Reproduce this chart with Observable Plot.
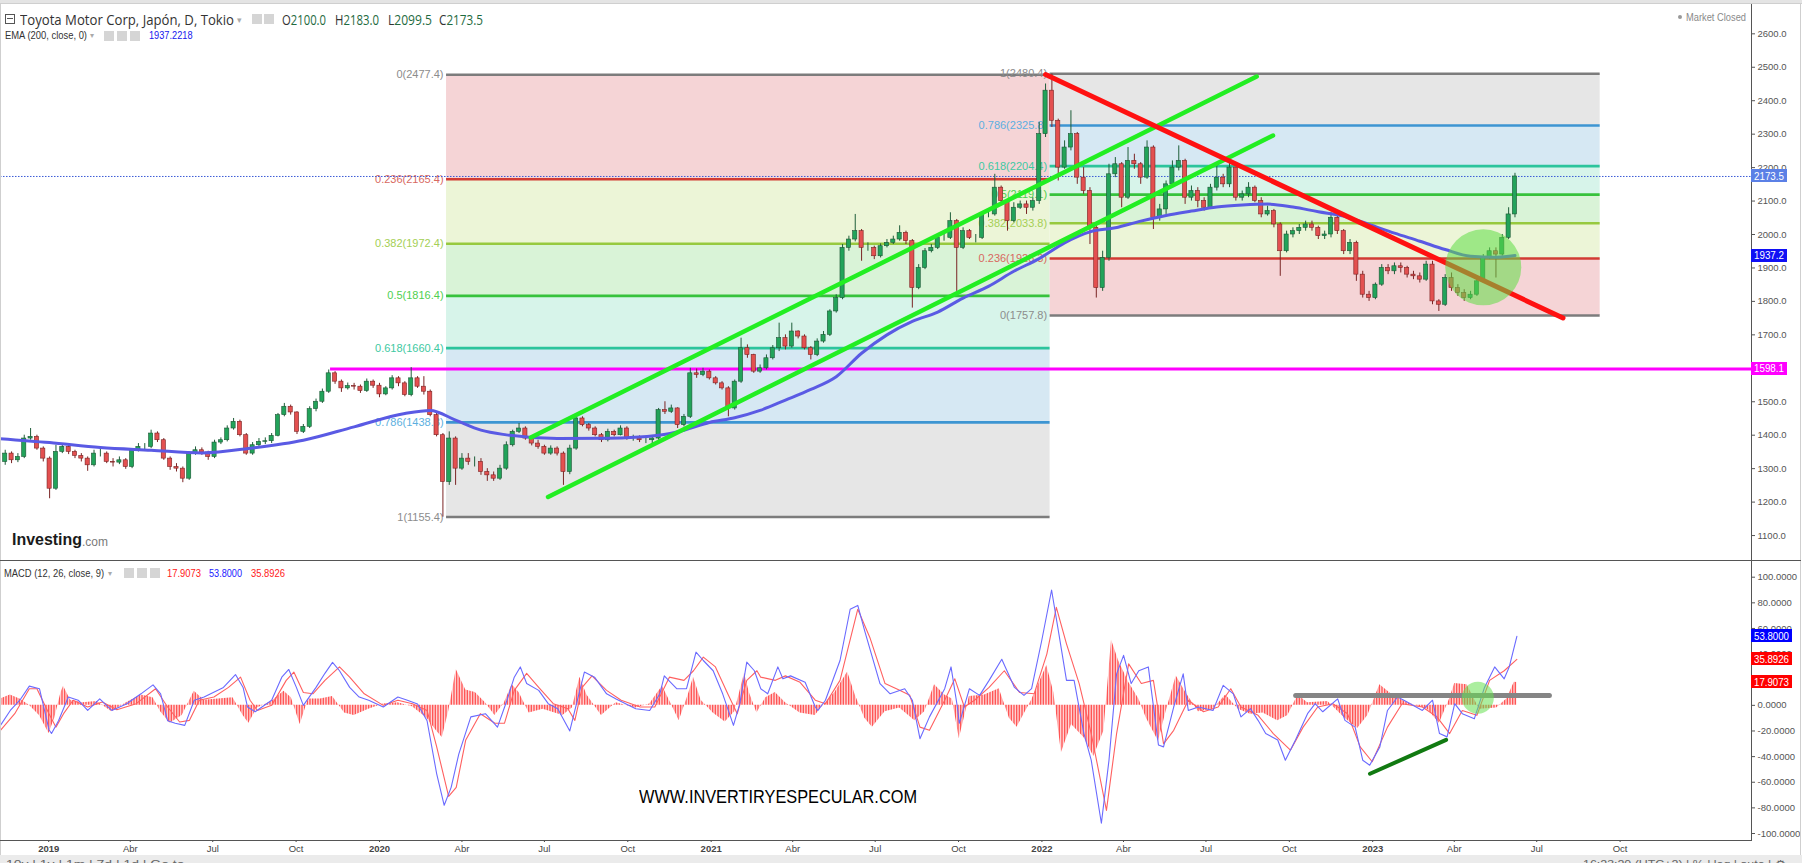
<!DOCTYPE html>
<html><head><meta charset="utf-8">
<script src="https://cdn.jsdelivr.net/npm/d3@7"></script>
<script src="https://cdn.jsdelivr.net/npm/@observablehq/plot@0.6"></script>
<style>
html,body{margin:0;padding:0;background:#fff;}
#wrap{position:relative;width:1802px;height:863px;overflow:hidden;background:#fff;font-family:"Liberation Sans",Arial,sans-serif;}
#wrap svg{position:absolute;left:0;}
.a{position:absolute;white-space:nowrap;line-height:1;}
</style></head>
<body><div id="wrap"></div>
<script>
// ================= DATA =================
const weekStart = "2018-11-07"; // centre of first weekly candle
const opens = [
1330,1320,1345,1325,1335,1390,1395,1360,1330,1240,
1350,1365,1350,1338,1330,1310,1345,1345,1320,1318,
1325,1305,1355,1365,1365,1405,1385,1330,1305,1300,
1270,1345,1355,1348,1335,1378,1385,1420,1440,1400,
1345,1370,1380,1382,1398,1460,1485,1468,1410,1425,
1478,1500,1530,1585,1560,1540,1547,1545,1532,1560,
1548,1522,1540,1570,1555,1520,1570,1545,1530,1460,
1400,1260,1390,1300,1330,1320,1320,1290,1280,1270,
1300,1370,1410,1420,1390,1375,1365,1345,1360,1345,
1290,1360,1450,1430,1420,1400,1385,1410,1400,1420,
1390,1390,1385,1385,1390,1475,1470,1480,1430,1455,
1585,1580,1590,1570,1555,1540,1480,1560,1660,1640,
1590,1600,1630,1660,1690,1665,1710,1695,1660,1640,
1680,1700,1770,1810,1960,1985,2010,1960,1960,1935,
1965,1975,1985,2005,1980,1840,1900,1950,1960,1990,
1990,2040,1960,2010,1990,1990,2060,2060,2140,2100,
2040,2080,2090,2080,2100,2300,2430,2340,2200,2260,
2300,2170,2130,2020,1840,1930,2180,2210,2110,2220,
2210,2170,2260,2050,2075,2150,2200,2220,2110,2130,
2100,2080,2140,2170,2150,2200,2110,2120,2140,2100,
2060,2070,2030,1950,2000,2010,2020,2030,2020,1995,
2000,2050,2010,1950,1975,1880,1820,1810,1850,1900,
1890,1905,1900,1880,1875,1865,1910,1800,1790,1870,
1840,1825,1810,1820,1860,1930,1950,1940,1990,2060];
const highs = [
1345,1355,1350,1345,1400,1420,1400,1365,1335,1370,
1375,1370,1355,1345,1335,1355,1360,1350,1330,1335,
1330,1360,1375,1375,1415,1410,1390,1335,1315,1305,
1350,1365,1362,1352,1385,1392,1428,1450,1445,1405,
1378,1390,1392,1405,1465,1495,1490,1470,1432,1485,
1508,1538,1595,1590,1565,1556,1555,1550,1568,1565,
1555,1545,1578,1575,1560,1602,1575,1575,1535,1465,
1405,1410,1395,1345,1345,1335,1330,1300,1290,1310,
1380,1415,1435,1425,1395,1385,1370,1368,1365,1350,
1370,1460,1455,1435,1425,1405,1418,1415,1428,1425,
1400,1398,1395,1398,1480,1500,1490,1482,1462,1600,
1598,1600,1595,1575,1560,1545,1565,1690,1670,1642,
1610,1640,1668,1735,1700,1735,1712,1700,1665,1688,
1710,1775,1820,1970,1995,2060,2015,1975,1965,1972,
1985,1995,2026,2010,1985,1910,1958,1970,1998,2000,
2065,2045,2020,2015,2000,2068,2075,2180,2145,2105,
2095,2100,2100,2110,2335,2450,2480,2345,2280,2370,
2305,2200,2140,2030,1950,2210,2230,2215,2260,2240,
2215,2280,2265,2090,2160,2220,2265,2225,2145,2140,
2110,2150,2210,2180,2220,2200,2130,2155,2145,2110,
2085,2075,2035,2010,2020,2030,2040,2040,2025,2010,
2066,2055,2015,1985,1980,1890,1830,1855,1910,1910,
1915,1915,1905,1890,1885,1920,1920,1805,1880,1885,
1850,1835,1830,1870,1940,1960,1960,2000,2080,2183];
const lows = [
1300,1310,1315,1318,1330,1385,1355,1320,1210,1235,
1345,1342,1330,1320,1292,1305,1335,1315,1305,1312,
1298,1300,1350,1355,1360,1378,1325,1295,1290,1258,
1265,1340,1340,1325,1330,1372,1380,1415,1395,1340,
1340,1362,1372,1375,1395,1455,1460,1402,1405,1420,
1470,1495,1525,1552,1528,1535,1535,1525,1528,1540,
1512,1518,1535,1545,1515,1515,1540,1520,1455,1395,
1155,1250,1250,1295,1310,1305,1280,1262,1262,1265,
1295,1365,1405,1385,1368,1358,1340,1340,1338,1250,
1282,1355,1425,1412,1395,1378,1380,1395,1398,1385,
1382,1378,1375,1370,1385,1462,1465,1420,1425,1450,
1570,1575,1565,1550,1535,1455,1475,1555,1630,1585,
1585,1595,1625,1650,1655,1660,1688,1655,1625,1635,
1675,1695,1765,1805,1950,1978,1920,1950,1925,1930,
1960,1970,1980,1970,1780,1835,1895,1945,1955,1980,
1985,1830,1955,1985,1975,1985,2050,2055,2090,2010,
2035,2075,2060,2070,2090,2290,2320,2160,2195,2250,
2150,2120,1970,1810,1830,1920,2170,2080,2105,2195,
2150,2165,2015,2040,2060,2140,2190,2090,2100,2080,
2070,2075,2130,2140,2140,2100,2100,2110,2095,2050,
2055,2020,1875,1945,1990,2000,2010,2010,1985,1985,
1990,2000,1940,1940,1860,1810,1800,1805,1845,1880,
1880,1885,1870,1865,1855,1860,1790,1770,1785,1830,
1815,1800,1805,1815,1855,1925,1870,1935,1985,2050];
const closes = [
1320,1345,1325,1335,1390,1395,1360,1330,1240,1350,
1365,1350,1338,1330,1310,1345,1345,1320,1318,1325,
1305,1355,1365,1365,1405,1385,1330,1305,1300,1270,
1345,1355,1348,1335,1378,1385,1420,1440,1400,1345,
1370,1380,1382,1398,1460,1485,1468,1410,1425,1478,
1500,1530,1585,1560,1540,1547,1545,1532,1560,1548,
1522,1540,1570,1555,1520,1570,1545,1530,1460,1400,
1260,1390,1300,1330,1320,1320,1290,1280,1270,1300,
1370,1410,1420,1390,1375,1365,1345,1360,1345,1290,
1360,1450,1430,1420,1400,1385,1410,1400,1420,1390,
1390,1385,1385,1390,1475,1470,1480,1430,1455,1585,
1580,1590,1570,1555,1540,1480,1560,1660,1640,1590,
1600,1630,1660,1690,1665,1710,1695,1660,1640,1680,
1700,1770,1810,1960,1985,2010,1960,1960,1935,1965,
1975,1985,2005,1980,1840,1900,1950,1960,1990,1990,
2040,1960,2010,1990,1990,2060,2060,2140,2100,2040,
2080,2090,2080,2100,2300,2430,2340,2200,2260,2300,
2170,2130,2020,1840,1930,2180,2210,2110,2220,2210,
2170,2260,2050,2075,2150,2200,2220,2110,2130,2100,
2080,2140,2170,2150,2200,2110,2120,2140,2100,2060,
2070,2030,1950,2000,2010,2020,2030,2020,1995,2000,
2050,2010,1950,1975,1880,1820,1810,1850,1900,1890,
1905,1900,1880,1875,1865,1910,1800,1790,1870,1840,
1825,1810,1820,1860,1930,1950,1940,1990,2060,2173.5];

// EMA(200) (week index -> value)
const emaWeek  = [0,8,16,24,32,40,48,56,64,68,72,76,80,88,96,104,108,112,116,120,124,128,132,136,140,144,148,152,156,160,164,168,172,176,180,184,188,192,196,200,204,208,212,216,220,224,228,232,236,239];
const emaValue = [1390,1378,1363,1355,1347,1362,1385,1425,1465,1474,1445,1415,1401,1390,1391,1400,1415,1438,1452,1474,1505,1537,1575,1645,1700,1740,1768,1810,1845,1890,1928,1975,2008,2020,2040,2057,2070,2082,2088,2091,2082,2068,2055,2030,2004,1980,1955,1935,1932,1937.2];

// MACD (12,26,9) (week index -> value)
const macdWeek = [0.25,1.8,3.3,4.8,6.4,7.9,8.3,9.4,10.95,12.5,14,15.9,17.8,20.1,22.4,24.3,25.5,26.6,27.8,29.3,30.8,32.35,35.4,37.3,38.5,39.2,40.4,43,44.6,45.7,46.9,48,50,51.4,52.6,53.7,55.3,56.8,58.3,60.6,62.9,64.4,66,67.5,69,70.2,71.3,72.5,74.4,76.7,78.6,80.1,81.25,82.2,83.2,85.1,86.6,88.1,90,91.2,92.3,93.9,95.8,97.3,98.8,100.4,102.6,104.2,104.9,106.85,108.4,109.9,111.05,112.6,114.1,115.8,116.8,117.9,119.1,120.1,121.2,122.8,123.6,124.8,127.1,128.7,129.1,130.3,132.6,134.2,135.4,136.5,138.9,140.5,142.8,144,145.2,146.7,149.1,150.1,151.1,151.4,153,154.6,156.1,158.1,160.1,161.6,162.8,164.4,165.95,167.1,168.3,169.5,171.05,172.2,173.8,175,176.2,177.3,178.5,179.7,181.2,182.8,183.6,185.2,186.7,187.5,189.1,191.4,193,194.6,195.8,197.3,198.5,199.7,201.6,202.8,204.4,206.3,207.5,208.7,211.05,212.2,213.8,215,216.1,217.7,218.9,220.5,222,224.4,226,227.1,228.3,229.5,230.7,232.6,234.2,235.8,237.3,238.1,239.3];
const macdValue = [-15.6,-4,4,15,13,-19,-22,-12,6.5,4,-4,5,-4,1,9,16,9,-12,-14,-15.6,4,6.5,14,24,14,-1.3,-5,4,22,28,14,0,14,25,33.5,27,14,6.5,4,-1.3,6.5,4,1,-12,-53,-78,-64,-38,-9,-6.5,-17,4,22,30,17,11.7,1.3,-2.6,-20,4,26,22,9,5,1.3,-2.6,-4,9,23,13,13,41.5,35,27,9,-15.6,1.3,33.7,27,13,9,30,20.7,23,18,-1.3,-4,4,35,75,78,58,17,9,13,4,-26,-9,13,30,-1.3,-14,13,7.8,19.5,36,14,7.8,13,50.6,90,55.8,19.5,19.5,-22,-42.8,-92,-42.8,24.6,39,17,27,30,-31,-32.4,-1.3,24.6,-4,-1.3,-4,15.6,9,-9,-2.6,-11.7,-22,-27,-42.8,-27,-6.5,1.3,-5,5,-11.7,-17,-42.8,-46.7,-32.4,-4,6.5,2.6,-4,4,-22,-24.6,1.3,-6.5,-10.4,14,30,20.7,30,53.8];
const signalWeek = [0.25,2.5,4.8,6,7.9,9,10.2,11.7,14,16.3,18.6,21.65,24.7,26.6,28.5,30.05,31.6,33.9,36.2,38.1,39.6,40.75,43,45.3,46.5,48,49.5,51.4,53.7,55.3,57.6,60.6,62.9,65.2,67.5,69,70.9,72.1,73.6,75.9,78.2,79.7,81.25,83.2,85.1,87.4,89.7,90.8,91.95,93.5,95.8,98.1,101.1,103.4,105.7,108,109.5,111.05,112.96,114.9,116.4,117.9,119.5,120.1,122.4,124,126.3,128.7,130.3,132.6,135.4,137.3,139.7,142,143.6,145.2,146.7,149.1,150.7,152.2,153.8,156.1,158.5,160.9,163.2,165.2,166.7,168.3,170.3,172.2,174.6,176.2,178.1,180.1,182,183.6,185.2,187.5,189.9,192.2,194.2,195.8,198.5,200.9,203.6,205.6,207.9,210.3,212.6,214.6,216.5,218.9,221.2,224.4,226.7,228.7,230.7,233,235,237.3,239.3];
const signalValue = [-19.5,-6.5,13,13,-6.5,-17,-6.5,4,-1.3,2.6,-3.4,1.3,13,-1.3,-13,-11.7,4,6.5,14,22,4,-4,0,19.5,26,10,9,19.5,30,22,9,0,4,1.3,-4,-32,-71,-64,-27,-6.5,-14,-14,11.7,25,14,1.3,-2.6,-11.7,14,23,11.7,4,-1.3,-1.3,22,19.5,27,37.6,30,9,-6.5,19.5,27,22,19.5,23,18,4,1.3,19.5,75,53,17,11.7,7.8,-17,-19.5,4,20.7,-1.3,4,14,27,10,9,40,76.5,48,17,-22,-82,-22,32.4,17,19.5,-30,-19.5,4,-5,-1.3,13,-1.3,-7.8,-22,-35,-17,-1.3,1.3,-6.5,-32.4,-44,-17,1.3,-1.3,-9,-22,-4,-7.8,19.5,27,35.9];
const histWeek = [0.25,1.8,3.3,4.8,6.4,7.9,8.8,9.8,10.2,11.3,13.2,15.5,17.8,20.1,22.4,24.3,25.5,27,28.9,30.8,32.35,34.6,36.9,38.5,39.4,40.75,43,44.95,46.1,47.5,48.8,50.7,52.6,54.5,56,58.3,60.6,62.9,65.2,67.5,69,69.9,70.9,72.1,73.6,75.1,76.7,78.2,79.7,80.9,82,83.6,85.8,88.9,90.4,91.6,92.7,95,97.3,100.4,102.6,104.6,105.7,107.25,108.8,109.5,110.7,112.6,114.5,116,117.55,118.3,119.5,120.9,122.4,124,126.3,128.7,130.3,131.8,133.8,135,136.5,137.7,139.7,142,144.4,145.95,147.5,149.1,150.3,151.4,153,155.4,157.7,159.3,160.5,162.8,165.2,166.3,167.5,169.1,171.05,172.6,174.2,175.4,176.5,178.1,179.7,180.9,182.8,184,185.6,187.1,189.1,191.4,193.4,195.4,197.3,199.3,201.6,203.2,204.8,206.3,209.5,212.2,214.2,215.8,217.7,219.7,222,225.2,227.1,228.7,229.5,231.45,233.4,236.1,237.7,238.9,239.3];
const histValue = [5,8,5,0,-8,-22,-10,10,15,4,2,3,-5,2,8,6,-5,-14,-8,11,4,5,6,-8,-14,-2,3,11,6,-15,5,5,7,-6,-8,-3,1,2,-1,-10,-20,-25,-5,28,12,10,2,-8,2,16,10,-6,-3,-8,-2,22,8,-8,2,-2,1,15,4,-12,10,22,4,-6,-13,-5,25,10,-6,6,10,2,-6,-8,2,10,26,8,-10,-17,-5,-2,-12,-5,16,8,5,-26,7,8,13,-10,-17,4,31,10,-37,-15,-25,-40,-20,51,35,18,5,-10,-28,-5,23,10,-5,-3,8,-3,-7,-6,-12,-8,8,2,3,-10,-18,-8,16,8,2,-3,-14,5,17,16,-3,-2,5,18,17.9];

// Fibonacci retracements
const fibLevels = ["0","0.236","0.382","0.5","0.618","0.786","1"];
const leftFibPrices  = [2477.4,2165.4,1972.4,1816.4,1660.4,1438.3,1155.4];
const rightFibPrices = [1757.8,1928.3,2033.8,2119.1,2204.4,2325.8,2480.4];
const leftFibSpan  = ["2020-03-15","2022-01-10"];
const rightFibSpan = ["2022-01-10","2023-09-09"];
const fibLineColors  = ["#7c7c7c","#d23b33","#97c93f","#37c23c","#2cc49c","#3d95d2","#7c7c7c"];
const fibLabelColors = ["#8c8c8c","#d8685f","#a4cf55","#4fd04f","#40c9a2","#5cafe0","#8c8c8c"];
const fibBandColors  = ["#f5d4d6","#ecf5d7","#d9f3d7","#d7f4ea","#d6e8f3","#e6e6e6"];

// drawings
const resistanceLine = [{from:"2019-11-08", price:1598.1}];
const channelUpper = [["2020-06-16",1393.1],["2022-08-26",2472.3]];
const channelLower = [["2020-07-05",1215.2],["2022-09-13",2296.0]];
const downTrend    = [["2022-01-05",2478.3],["2023-07-30",1750.4]];
const priceCircle  = [["2023-05-03",1902]];
const macdLevel    = [["2022-10-08",7.7],["2023-07-15",7.7]];
const macdSupport  = [["2022-12-29",-53.4],["2023-03-23",-26.9]];
const macdCircle   = [["2023-04-27",5.9]];

// last values
const lastOHLC = {o:2100.0, h:2183.0, l:2099.5, c:2173.5};
const lastEma = 1937.2218;
const lastMacd = 53.8000, lastSignal = 35.8926, lastHist = 17.9073;

// axis ticks
const priceTicks = [1100,1200,1300,1400,1500,1600,1700,1800,1900,2000,2100,2200,2300,2400,2500,2600];
const macdTicks = [-100,-80,-60,-40,-20,0,20,40,60,80,100];
const timeTicks = ["2019-01-01","2019-04-01","2019-07-01","2019-10-01","2020-01-01","2020-04-01","2020-07-01","2020-10-01","2021-01-01","2021-04-01","2021-07-01","2021-10-01","2022-01-01","2022-04-01","2022-07-01","2022-10-01","2023-01-01","2023-04-01","2023-07-01","2023-10-01"];
const monthNames = {0:null, 3:"Abr", 6:"Jul", 9:"Oct"};

// ================= BUILD =================
const DAY = 864e5;
const T0 = new Date(weekStart).getTime();
const wk = k => new Date(T0 + k * 7 * DAY);
const D = s => new Date(s);
const E0 = Date.UTC(2020,0,1);
const xDomain = [new Date(E0 - 418.2*DAY), new Date(E0 + 1514*DAY)];

const candles = closes.map((c,i)=>({date: wk(i), o: opens[i], h: highs[i], l: lows[i], c}));
const up = candles.filter(d=>d.c>=d.o), down = candles.filter(d=>d.c<d.o);
const half = 2.3*DAY;
const ema = emaWeek.map((k,i)=>({date: wk(k), v: emaValue[i]}));
const macd = macdWeek.map((k,i)=>({date: wk(k), v: macdValue[i]}));
const signal = signalWeek.map((k,i)=>({date: wk(k), v: signalValue[i]}));
const hist = histWeek.map((k,i)=>({date: wk(k), v: histValue[i]}));

const bands = [], fibLines = [];
function addFib(prices, span){
  for (let i=0;i<prices.length;i++){
    fibLines.push({x1:D(span[0]), x2:D(span[1]), y:prices[i], color:fibLineColors[i], lcolor:fibLabelColors[i], label:`${fibLevels[i]}(${prices[i].toFixed(1)})`});
    if (i<prices.length-1) bands.push({x1:D(span[0]), x2:D(span[1]), y1:prices[i], y2:prices[i+1], fill:fibBandColors[i]});
  }
}
addFib(leftFibPrices, leftFibSpan);
addFib(rightFibPrices, rightFibSpan);
const seg = (arr, id) => arr.map(([d,v])=>({date:D(d), v, id}));
const channels = [...seg(channelUpper,"u"), ...seg(channelLower,"l")];
const resist = resistanceLine.map(r=>({x1:D(r.from), x2:xDomain[1], y:r.price}));

const FONT = '"Liberation Sans", Arial, sans-serif';

const pricePlot = Plot.plot({
  width:1802, height:560, marginTop:0, marginBottom:0, marginLeft:0, marginRight:51,
  x:{type:"utc", domain:xDomain, axis:null},
  y:{domain:[1025.4, 2699.6], axis:null},
  style:{fontFamily:FONT, fontSize:"10px", background:"transparent"},
  marks:[
    Plot.rect(bands, {x1:"x1", x2:"x2", y1:"y1", y2:"y2", fill:d=>d.fill}),
    Plot.ruleY(fibLines, {y:"y", x1:"x1", x2:"x2", stroke:d=>d.color, strokeWidth:2.6}),
    Plot.text(fibLines, {x:"x1", y:"y", text:"label", textAnchor:"end", dx:-3, fill:d=>d.lcolor, fontSize:11}),
    Plot.ruleY(resist, {y:"y", x1:"x1", x2:"x2", stroke:"#ff00ff", strokeWidth:3}),
    Plot.ruleY([lastOHLC.c], {stroke:"#3b5bd6", strokeWidth:1, strokeDasharray:"1.5,1.5"}),
    Plot.ruleX(up, {x:"date", y1:"l", y2:"h", stroke:"#1f5e3a", strokeWidth:1}),
    Plot.ruleX(down, {x:"date", y1:"l", y2:"h", stroke:"#7a2424", strokeWidth:1}),
    Plot.rect(up, {x1:d=>new Date(+d.date-half), x2:d=>new Date(+d.date+half), y1:"o", y2:"c", fill:"#22a35a", stroke:"#1b5533", strokeWidth:0.6}),
    Plot.rect(down, {x1:d=>new Date(+d.date-half), x2:d=>new Date(+d.date+half), y1:"o", y2:"c", fill:"#e35050", stroke:"#7a2222", strokeWidth:0.6}),
    Plot.line(ema, {x:"date", y:"v", stroke:"#5a5ae4", strokeWidth:3, curve:"monotone-x"}),
    Plot.line(channels, {x:"date", y:"v", z:"id", stroke:"#22ee22", strokeWidth:4.5}),
    Plot.line(seg(downTrend,"r"), {x:"date", y:"v", stroke:"#ff1111", strokeWidth:5}),
    Plot.dot(seg(priceCircle,"c"), {x:"date", y:"v", r:38, fill:"#5fdc45", fillOpacity:0.55, stroke:"none"}),
    Plot.axisY(priceTicks, {anchor:"right", label:null, tickFormat:d=>d.toFixed(1), tickSize:3, tickPadding:3, fontSize:9.5, color:"#555"})
  ]
});
pricePlot.style.top = "0px";

const macdPlot = Plot.plot({
  width:1802, height:303, marginTop:0, marginBottom:23, marginLeft:0, marginRight:51,
  x:{type:"utc", domain:xDomain, axis:null},
  y:{domain:[-105.46, 113.03], axis:null},
  style:{fontFamily:FONT, fontSize:"10px", background:"transparent"},
  marks:[
    Plot.areaY(hist, {x:"date", y:"v", fill:"#ff5252"}),
    Plot.line(signal, {x:"date", y:"v", stroke:"#ff6060", strokeWidth:1.1}),
    Plot.line(macd, {x:"date", y:"v", stroke:"#6a6aff", strokeWidth:1.1}),
    Plot.line(seg(macdLevel,"g"), {x:"date", y:"v", stroke:"#858585", strokeWidth:5}),
    Plot.line(seg(macdSupport,"s"), {x:"date", y:"v", stroke:"#117a11", strokeWidth:4}),
    Plot.dot(seg(macdCircle,"c"), {x:"date", y:"v", r:16, fill:"#66e050", fillOpacity:0.55, stroke:"none"}),
    Plot.axisY(macdTicks, {anchor:"right", label:null, tickFormat:d=>d.toFixed(4), tickSize:3, tickPadding:3, fontSize:9.5, color:"#555"}),
    Plot.axisX(timeTicks.map(D), {anchor:"bottom", label:null, tickSize:2, tickPadding:3, fontSize:9.5, color:"#444",
      tickFormat:d=> d.getUTCMonth()===0 ? String(d.getUTCFullYear()) : monthNames[d.getUTCMonth()]})
  ]
});
macdPlot.style.top = "560px";

const wrap = document.getElementById("wrap");
wrap.appendChild(pricePlot);
wrap.appendChild(macdPlot);

// histogram: striped fill to mimic daily bars
(function(){
  const ns = "http://www.w3.org/2000/svg";
  const defs = document.createElementNS(ns,"defs");
  const pat = document.createElementNS(ns,"pattern");
  pat.setAttribute("id","hstripe"); pat.setAttribute("patternUnits","userSpaceOnUse");
  pat.setAttribute("width","1.6"); pat.setAttribute("height","20");
  const r = document.createElementNS(ns,"rect");
  r.setAttribute("width","0.9"); r.setAttribute("height","20"); r.setAttribute("fill","#ff4040");
  pat.appendChild(r); defs.appendChild(pat); macdPlot.insertBefore(defs, macdPlot.firstChild);
  macdPlot.querySelectorAll('g[aria-label="area"]').forEach(g=>{
    g.setAttribute("fill","url(#hstripe)");
    g.querySelectorAll("path").forEach(p=>p.setAttribute("fill","url(#hstripe)"));
  });
  macdPlot.querySelectorAll("text").forEach(t=>{ if (/^\d{4}$/.test(t.textContent)) t.setAttribute("font-weight","bold"); });
})();

// ================= OVERLAY TEXT / FRAME =================
function box(x,y,w,h,bg,extra){ const d=document.createElement("div"); d.className="a";
  Object.assign(d.style,{left:x+"px",top:y+"px",width:w+"px",height:h+"px",background:bg},extra||{}); wrap.appendChild(d); return d; }
function txt(s,x,yc,size,color,o){ o=o||{}; const d=document.createElement("div"); d.className="a"; d.textContent=s;
  Object.assign(d.style,{left:x+"px",fontSize:size+"px",color:color,fontFamily:o.family||FONT,fontWeight:o.weight||"normal"});
  wrap.appendChild(d); const r=d.getBoundingClientRect(); d.style.top=(yc-r.height/2)+"px";
  if(o.w){ d.style.transformOrigin="0 50%"; d.style.transform=`scaleX(${o.w/r.width})`; } return d; }

// frame lines
box(0,0,1802,3,"#e4e4e4");
box(0,3,1802,1,"#cfcfcf");
box(0,3,1,852,"#cfcfcf");
box(1800,3,1,852,"#cfcfcf");
box(1751,4,1,836,"#555");
box(0,560,1801,1,"#555");
box(0,840,1752,1,"#555");
box(0,855,1802,8,"#ebebeb");

// header
box(5,14,8,8,"#fff",{border:"1px solid #555"}); box(7,18,6,1,"#555");
txt("Toyota Motor Corp, Japón, D, Tokio",20,19.5,14,"#333",{family:'"Open Sans", "Liberation Sans", sans-serif', w:214});
txt("▾",237,20,9,"#aaa");
box(252,14,10,10,"#d5d5d5"); box(264,14,10,10,"#d5d5d5");
const ohlc=[["O",lastOHLC.o,282],["H",lastOHLC.h,335],["L",lastOHLC.l,388],["C",lastOHLC.c,439]];
ohlc.forEach(([k,v,x])=>{ const t=txt("",x,19.5,14,"#333",{family:'"Open Sans", "Liberation Sans", sans-serif'});
  t.innerHTML=`<span style="color:#333">${k}</span><span style="color:#1f6b3f">${v.toFixed(1)}</span>`;
  const r=t.getBoundingClientRect(); t.style.top=(19.5-r.height/2)+"px"; t.style.transformOrigin="0 50%"; t.style.transform=`scaleX(${44/r.width})`; });
txt("EMA (200, close, 0)",4.6,35.7,11,"#333",{w:82});
txt("▾",90,36,8,"#aaa");
box(104,31,10,10,"#d5d5d5"); box(117,31,10,10,"#d5d5d5"); box(130,31,10,10,"#d5d5d5");
txt(lastEma.toFixed(4),149,35.7,11,"#1515ee",{w:43.5});
box(1678,15,4,4,"#999",{borderRadius:"2px"});
txt("Market Closed",1686,17.3,10.5,"#8a8a8a",{w:60});

// MACD header
txt("MACD (12, 26, close, 9)",4,573.3,11,"#333",{w:100});
txt("▾",108,573.5,8,"#aaa");
box(124,568,10,10,"#d5d5d5"); box(137,568,10,10,"#d5d5d5"); box(150,568,10,10,"#d5d5d5");
txt(lastHist.toFixed(4),167,573.3,11,"#ff2020",{w:34});
txt(lastMacd.toFixed(4),209.4,573.3,11,"#2020ff",{w:33});
txt(lastSignal.toFixed(4),250.6,573.3,11,"#ff2020",{w:34});

// value boxes on the right axis (positions from the plot scales)
const yP = pricePlot.scale("y"), yM = macdPlot.scale("y");
function valBox(s,yc,w,bg){ box(1751,yc-6.5,w,13,bg); txt(s,1754,yc,10.5,"#fff",{w:w-6}); }
valBox(lastOHLC.c.toFixed(1), yP.apply(lastOHLC.c), 36, "#5b80e6");
valBox(lastEma.toFixed(1), yP.apply(lastEma), 36, "#1010f5");
valBox(resistanceLine[0].price.toFixed(1), yP.apply(resistanceLine[0].price), 36, "#ff00ff");
valBox(lastMacd.toFixed(4), 560+yM.apply(lastMacd), 41, "#0000ff");
valBox(lastSignal.toFixed(4), 560+yM.apply(lastSignal), 41, "#ff0000");
valBox(lastHist.toFixed(4), 560+yM.apply(lastHist), 41, "#ff0000");

// logo and watermark
txt("Investing",11.7,540,16,"#1a1a1a",{weight:"900",w:70});
txt(".com",82,542,12,"#7a7a7a",{w:26});
txt("WWW.INVERTIRYESPECULAR.COM",639,796.5,18,"#000",{family:'"Liberation Sans Narrow","Liberation Sans",Arial,sans-serif',w:278});

// bottom toolbar (partially visible, as in the source screenshot)
txt("10y  |  1y  |  1m  |  7d  |  1d  |  Go to...",6,864,11,"#666",{w:190});
txt("16:23:20 (UTC+2)  |  %  |  log  |  auto  |  ⚙",1583,864,11,"#666",{w:203});
</script>
</body></html>
